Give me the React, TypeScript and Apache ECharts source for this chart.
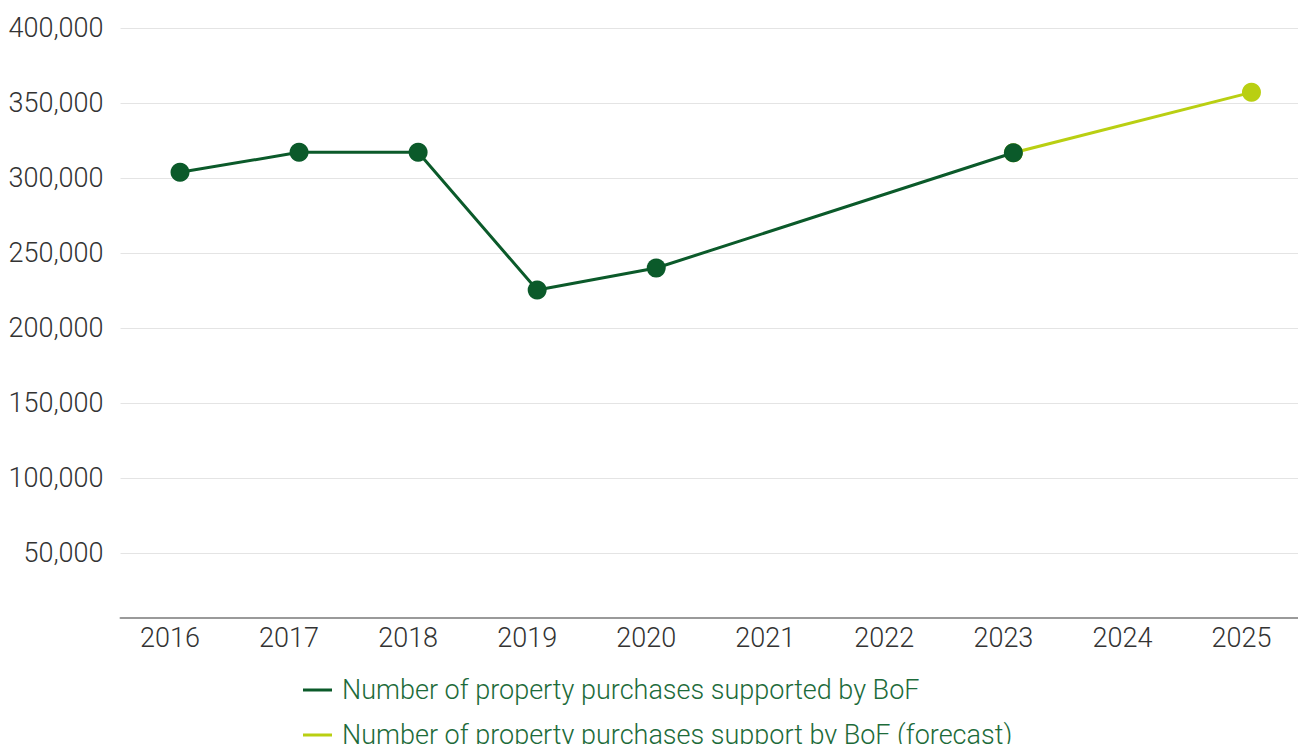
import React, { useEffect, useRef } from "react";
import * as echarts from "echarts";

const years = ["2016", "2017", "2018", "2019", "2020", "2021", "2022", "2023", "2024", "2025"];
const supported = [304000, 317300, 317300, 225500, 240200, null, null, 317000, null, null];
const forecast = [null, null, null, null, null, null, null, 317000, null, 357300];
const seriesNames = [
  "Number of property purchases supported by BoF",
  "Number of property purchases support by BoF (forecast)",
];
const darkGreen = "#0b5a2a";
const lightGreen = "#b9cf12";

const legendText = {
  color: "#1d6b3a",
  fontSize: 27,
  fontWeight: 300,
  lineHeight: 30,
  fontFamily: "Roboto",
  padding: [0, 0, 0, 5],
};

export default function App() {
  const ref = useRef<HTMLDivElement>(null);
  useEffect(() => {
    if (!ref.current) return;
    const chart = echarts.init(ref.current, undefined, { renderer: "svg" });
    chart.setOption({
      animation: false,
      textStyle: { fontFamily: "Roboto" },
      grid: { left: 120.5, right: 0, top: 28.3, bottom: 115.7, containLabel: false },
      legend: [
        {
          data: [seriesNames[0]],
          orient: "horizontal",
          left: 298,
          top: 670,
          icon: "rect",
          itemWidth: 29,
          itemHeight: 3,
          textStyle: legendText,
        },
        {
          data: [seriesNames[1]],
          orient: "horizontal",
          left: 298,
          top: 715,
          icon: "rect",
          itemWidth: 29,
          itemHeight: 3,
          textStyle: legendText,
        },
      ],
      xAxis: {
        type: "category",
        data: years,
        boundaryGap: true,
        offset: -11,
        axisLine: { show: true, lineStyle: { color: "#9a9a9a", width: 2 } },
        axisTick: { show: false },
        axisLabel: { color: "#333333", fontSize: 27, fontWeight: 300, margin: 7, padding: [0, 20, 0, 0], fontFamily: "Roboto" },
        splitLine: { show: false },
      },
      yAxis: {
        type: "value",
        min: 0,
        max: 400000,
        interval: 50000,
        axisLine: { show: false },
        axisTick: { show: false },
        axisLabel: {
          color: "#333333",
          fontSize: 27,
          fontWeight: 300,
          margin: 17,
          showMinLabel: false,
          fontFamily: "Roboto",
          formatter: (v: number) => (v === 0 ? "" : v.toLocaleString("en-US")),
        },
        splitLine: { show: true, showMinLine: false, lineStyle: { color: "#e4e4e4", width: 1 } },
      },
      series: [
        {
          name: seriesNames[1],
          type: "line",
          data: forecast,
          connectNulls: true,
          z: 2,
          symbol: "circle",
          symbolSize: 19,
          showAllSymbol: true,
          lineStyle: { color: lightGreen, width: 3 },
          itemStyle: { color: lightGreen },
        },
        {
          name: seriesNames[0],
          type: "line",
          data: supported,
          connectNulls: true,
          z: 3,
          symbol: "circle",
          symbolSize: 19,
          showAllSymbol: true,
          lineStyle: { color: darkGreen, width: 3 },
          itemStyle: { color: darkGreen },
        },
      ],
    });
    return () => chart.dispose();
  }, []);
  return (
    <div style={{ position: "fixed", left: 0, top: 0, width: 1298, height: 744, overflow: "hidden", background: "#ffffff" }}>
      <div ref={ref} style={{ position: "absolute", left: 0, top: 0, width: 1311, height: 744 }} />
    </div>
  );
}
